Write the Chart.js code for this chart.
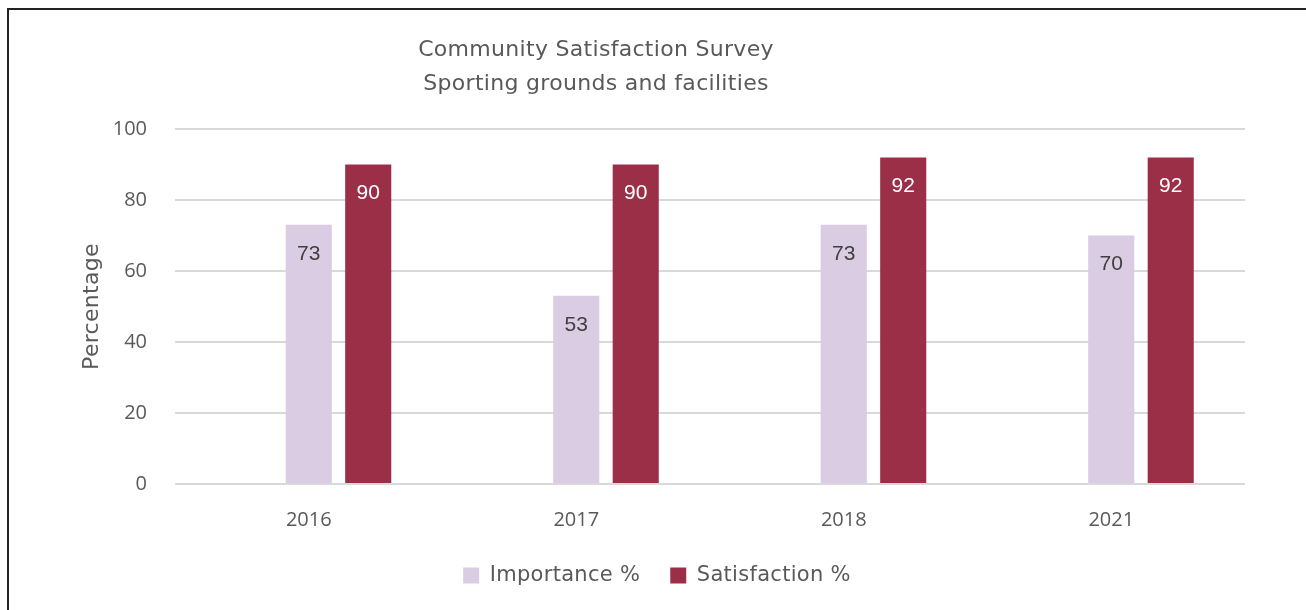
<!DOCTYPE html>
<html>
<head>
<meta charset="utf-8">
<script src="https://cdn.jsdelivr.net/npm/chart.js@4/dist/chart.umd.min.js"></script>
<style>
  html, body { margin: 0; padding: 0; background: #fff; overflow: hidden; }
  #frame {
    position: absolute; left: 7px; top: 8px;
    width: 1320px; height: 620px;
    border-left: 2px solid #222; border-top: 2px solid #222;
  }
  #wrap { position: absolute; left: 0; top: 0; width: 1310px; height: 600px; }
</style>
</head>
<body>
<div id="frame"><div id="wrap"><canvas id="grafico"></canvas></div></div>
<script>
// dados do inquérito
const anos = ['2016', '2017', '2018', '2021'];
const importancia = [73, 53, 73, 70];
const satisfacao = [90, 90, 92, 92];
const vazio = [null, null, null, null];
const titulo = ['Community Satisfaction Survey', 'Sporting grounds and facilities'];

const fonteTexto = 'DejaVu Sans, sans-serif';
const fonteNum = 'Open Sans, sans-serif';
const cinza = '#595959';

const ctx = document.getElementById('grafico').getContext('2d');

// textos em DejaVu ficam com um leve espaçamento entre letras
const fillOrig = ctx.fillText;
const measureOrig = ctx.measureText;
function espacar(c) {
    c.letterSpacing = c.font.indexOf('DejaVu') >= 0 ? '0.3px' : '0px';
}
ctx.fillText = function (t, x, y, mw) {
    espacar(this);
    return mw === undefined ? fillOrig.call(this, t, x, y) : fillOrig.call(this, t, x, y, mw);
};
ctx.measureText = function (t) {
    espacar(this);
    return measureOrig.call(this, t);
};

// título desenhado à mão (fica deslocado do centro, como no original)
const tituloPlugin = {
    id: 'tituloPlugin',
    afterDraw(chart) {
        const c = chart.ctx;
        c.save();
        c.font = '22px ' + fonteTexto;
        c.fillStyle = cinza;
        c.textAlign = 'center';
        c.textBaseline = 'middle';
        c.fillText(titulo[0], 587, 40);
        c.fillText(titulo[1], 587, 74);
        c.restore();
    }
};

// valores dentro do topo de cada barra
const rotulosPlugin = {
    id: 'rotulosPlugin',
    afterDatasetsDraw(chart) {
        const c = chart.ctx;
        c.save();
        c.font = '21px Liberation Sans, Arial, sans-serif';
        c.textAlign = 'center';
        c.textBaseline = 'middle';
        chart.data.datasets.forEach((ds, i) => {
            if (!ds.corRotulo) return;
            chart.getDatasetMeta(i).data.forEach((bar, j) => {
                if (ds.data[j] == null) return;
                c.fillStyle = ds.corRotulo;
                c.fillText(String(ds.data[j]), bar.x, bar.y + 29);
            });
        });
        c.restore();
    }
};

window.chart = new Chart(ctx, {
    type: 'bar',
    data: {
        labels: anos,
        datasets: [
            { label: '', data: vazio, backgroundColor: 'rgba(0,0,0,0)' },
            { label: 'Importance %', data: importancia, backgroundColor: '#D9CCE3', corRotulo: '#404040' },
            { label: 'Satisfaction %', data: satisfacao, backgroundColor: '#9A2F47', corRotulo: '#ffffff' }
        ]
    },
    options: {
        responsive: true,
        maintainAspectRatio: false,
        animation: false,
        categoryPercentage: 0.667,
        barPercentage: 0.775,
        layout: { padding: { left: 60, right: 74, top: 119, bottom: 14 } },
        plugins: {
            legend: {
                position: 'bottom',
                labels: {
                    filter: item => item.text !== '',
                    boxWidth: 16,
                    boxHeight: 16,
                    padding: 30,
                    color: cinza,
                    font: { family: fonteTexto, size: 21 }
                }
            },
            tooltip: { enabled: false }
        },
        scales: {
            x: {
                grid: { display: false, drawTicks: false },
                border: { display: false },
                ticks: { color: cinza, padding: 24, font: { family: fonteNum, size: 20 } },
                afterFit(scale) { scale.height = 51; }
            },
            y: {
                min: 0,
                max: 100,
                ticks: { stepSize: 20, color: cinza, padding: 28, font: { family: fonteNum, size: 20 } },
                grid: { color: '#D9D9D9', lineWidth: 2, drawTicks: false },
                border: { display: false },
                title: {
                    display: true,
                    text: 'Percentage',
                    color: cinza,
                    padding: { top: 10, bottom: 0 },
                    font: { family: fonteTexto, size: 22 }
                },
                afterFit(scale) { scale.width = 106; }
            }
        }
    },
    plugins: [tituloPlugin, rotulosPlugin]
});
</script>
</body>
</html>
